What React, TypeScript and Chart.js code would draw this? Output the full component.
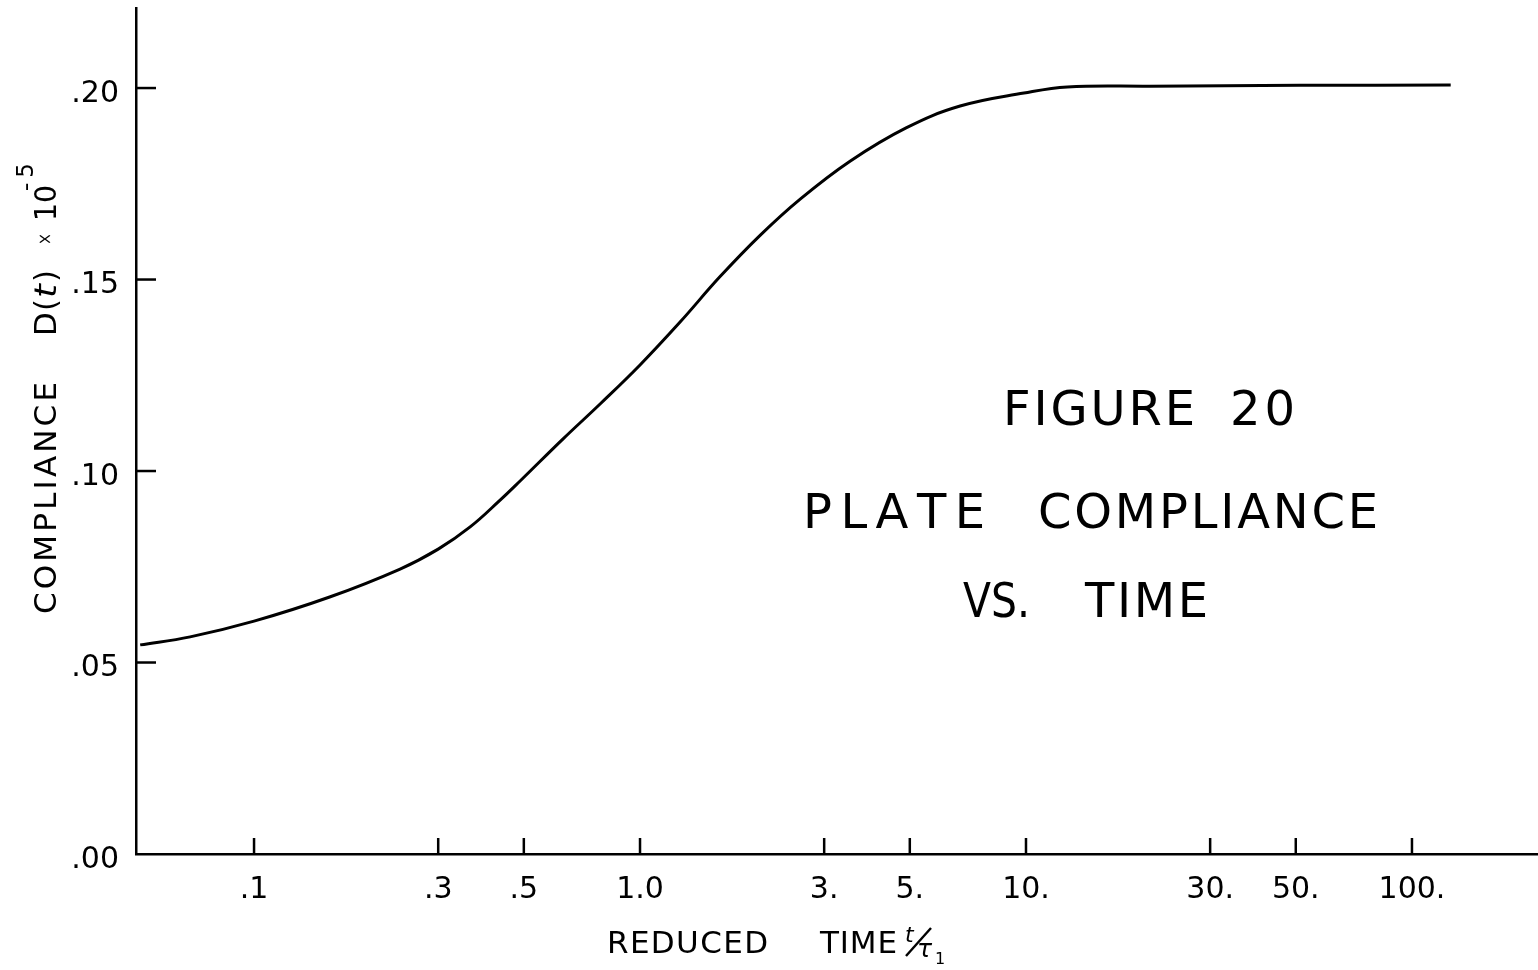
import React, { useEffect, useRef } from "react";
import { Chart, registerables } from "chart.js";

Chart.register(...registerables);

// ---- data ----
const reducedTime = [0.0507, 0.0683, 0.1, 0.157, 0.239, 0.3, 0.363, 0.434, 0.489, 0.632, 0.788, 1.0, 1.27, 1.61, 2.05, 2.6, 3.5, 4.89, 6.75, 9.88, 12.8, 20.9, 51.3, 126];
const compliance = [0.0546, 0.0567, 0.0608, 0.0671, 0.0744, 0.0796, 0.0854, 0.0924, 0.0974, 0.1084, 0.1175, 0.1277, 0.1389, 0.1507, 0.1616, 0.171, 0.1809, 0.1896, 0.1953, 0.1987, 0.2003, 0.2005, 0.2007, 0.2008];

const xTickValues = [0.1, 0.3, 0.5, 1, 3, 5, 10, 30, 50, 100];
const xTickLabels = [".1", ".3", ".5", "1.0", "3.", "5.", "10.", "30.", "50.", "100."];
const yTickValues = [0, 0.05, 0.1, 0.15, 0.2];
const yTickLabels = [".00", ".05", ".10", ".15", ".20"];

const xTitleWords = ["REDUCED", "TIME"];
const yTitleWord = "COMPLIANCE";
const figureTitle = ["FIGURE", "20"];
const figureLine2 = ["PLATE", "COMPLIANCE"];
const figureLine3 = ["VS.", "TIME"];

const FONT = "'DejaVu Sans', 'Liberation Sans', sans-serif";

function drawSpaced(ctx: CanvasRenderingContext2D, text: string, x: number, y: number, width: number) {
  const chars = Array.from(text);
  const widths = chars.map((c) => ctx.measureText(c).width);
  const total = widths.reduce((a, b) => a + b, 0);
  if (total >= width || chars.length < 2) {
    const k = width / total;
    ctx.save();
    ctx.translate(x, y);
    ctx.scale(k, 1);
    let cx = 0;
    chars.forEach((c, i) => {
      ctx.fillText(c, cx, 0);
      cx += widths[i];
    });
    ctx.restore();
    return;
  }
  const gap = (width - total) / (chars.length - 1);
  let cx = x;
  chars.forEach((c, i) => {
    ctx.fillText(c, cx, y);
    cx += widths[i] + gap;
  });
}

const overlayPlugin = {
  id: "overlay",
  afterDraw(chart: any) {
    const ctx: CanvasRenderingContext2D = chart.ctx;
    const xs = chart.scales.x;
    const ys = chart.scales.y;
    ctx.save();
    ctx.strokeStyle = "#000";
    ctx.fillStyle = "#000";
    ctx.lineWidth = 2.5;
    // inside tick marks
    xTickValues.forEach((v) => {
      const px = xs.getPixelForValue(v);
      ctx.beginPath();
      ctx.moveTo(px, ys.bottom);
      ctx.lineTo(px, ys.bottom - 16);
      ctx.stroke();
    });
    yTickValues.forEach((v) => {
      if (v === 0) return;
      const py = ys.getPixelForValue(v);
      ctx.beginPath();
      ctx.moveTo(xs.left, py);
      ctx.lineTo(xs.left + 20, py);
      ctx.stroke();
    });

    ctx.textAlign = "left";
    ctx.textBaseline = "alphabetic";

    // x-axis title
    ctx.font = `31px ${FONT}`;
    drawSpaced(ctx, xTitleWords[0], 607, 953, 161);
    drawSpaced(ctx, xTitleWords[1], 820, 953, 77);
    // t / tau_1
    ctx.font = `italic 22px ${FONT}`;
    ctx.fillText("t", 905, 942);
    ctx.beginPath();
    ctx.lineWidth = 2.4;
    ctx.moveTo(906, 956);
    ctx.lineTo(931, 928);
    ctx.stroke();
    ctx.font = `italic 25px ${FONT}`;
    ctx.fillText("τ", 917, 957);
    ctx.font = `16px ${FONT}`;
    ctx.fillText("1", 935, 964);

    // y-axis title (rotated)
    const rot = (text: string, baseX: number, startY: number, endY: number, font: string) => {
      ctx.save();
      ctx.translate(baseX, startY);
      ctx.rotate(-Math.PI / 2);
      ctx.font = font;
      drawSpaced(ctx, text, 0, 0, startY - endY);
      ctx.restore();
    };
    rot(yTitleWord, 56, 614, 382, `31px ${FONT}`);
    rot("D(", 56, 336, 299, `31px ${FONT}`);
    rot("t", 56, 298, 284, `italic 31px ${FONT}`);
    rot(")", 56, 282, 270, `31px ${FONT}`);
    rot("×", 51, 245, 233, `20px ${FONT}`);
    rot("10", 56, 221, 185, `31px ${FONT}`);
    rot("-5", 33, 191, 163, `23px ${FONT}`);

    // figure caption
    ctx.font = `48px ${FONT}`;
    drawSpaced(ctx, figureTitle[0], 1003, 425, 192);
    drawSpaced(ctx, figureTitle[1], 1230, 425, 65);
    drawSpaced(ctx, figureLine2[0], 803, 528, 182);
    drawSpaced(ctx, figureLine2[1], 1038, 528, 340);
    drawSpaced(ctx, figureLine3[0], 963, 617, 67);
    drawSpaced(ctx, figureLine3[1], 1085, 617, 123);

    ctx.restore();
  },
};

export default function App() {
  const ref = useRef<HTMLCanvasElement | null>(null);

  useEffect(() => {
    if (!ref.current) return;
    const points = reducedTime.map((t, i) => ({ x: t, y: compliance[i] }));
    const chart = new Chart(ref.current, {
      type: "line",
      data: {
        datasets: [
          {
            data: points,
            borderColor: "#000",
            borderWidth: 3,
            pointRadius: 0,
            fill: false,
            tension: 0.4,
          },
        ],
      },
      options: {
        responsive: false,
        animation: false,
        events: [],
        layout: { padding: { top: 8, left: 0, right: 0, bottom: 0 } },
        plugins: { legend: { display: false }, tooltip: { enabled: false }, title: { display: false } },
        scales: {
          x: {
            type: "logarithmic",
            min: 0.04945,
            max: 212.1,
            afterBuildTicks: (s: any) => {
              s.ticks = xTickValues.map((v) => ({ value: v }));
            },
            afterFit: (s: any) => {
              s.height = 116;
              s.paddingLeft = 0;
              s.paddingRight = 0;
            },
            grid: { drawOnChartArea: false, drawTicks: false },
            border: { display: true, color: "#000", width: 2.5 },
            ticks: {
              autoSkip: false,
              maxRotation: 0,
              minRotation: 0,
              padding: 18,
              color: "#000",
              font: { family: FONT, size: 30 },
              callback: (v: any) => xTickLabels[xTickValues.indexOf(Number(v))] ?? "",
            },
          },
          y: {
            type: "linear",
            min: 0,
            max: 0.2209,
            afterBuildTicks: (s: any) => {
              s.ticks = yTickValues.map((v) => ({ value: v }));
            },
            afterFit: (s: any) => {
              s.width = 136;
              s.paddingTop = 0;
              s.paddingBottom = 0;
            },
            grid: { drawOnChartArea: false, drawTicks: false },
            border: { display: true, color: "#000", width: 2.5 },
            ticks: {
              padding: 17,
              labelOffset: 6,
              color: "#000",
              font: { family: FONT, size: 30 },
              callback: (v: any) => yTickLabels[yTickValues.indexOf(Number(v))] ?? "",
            },
          },
        },
      },
      plugins: [overlayPlugin],
    } as any);
    return () => chart.destroy();
  }, []);

  return (
    <div style={{ position: "fixed", left: 0, top: 0, width: 1538, height: 970, background: "#fff" }}>
      <canvas ref={ref} width={1538} height={970} style={{ display: "block", width: 1538, height: 970 }} />
    </div>
  );
}
